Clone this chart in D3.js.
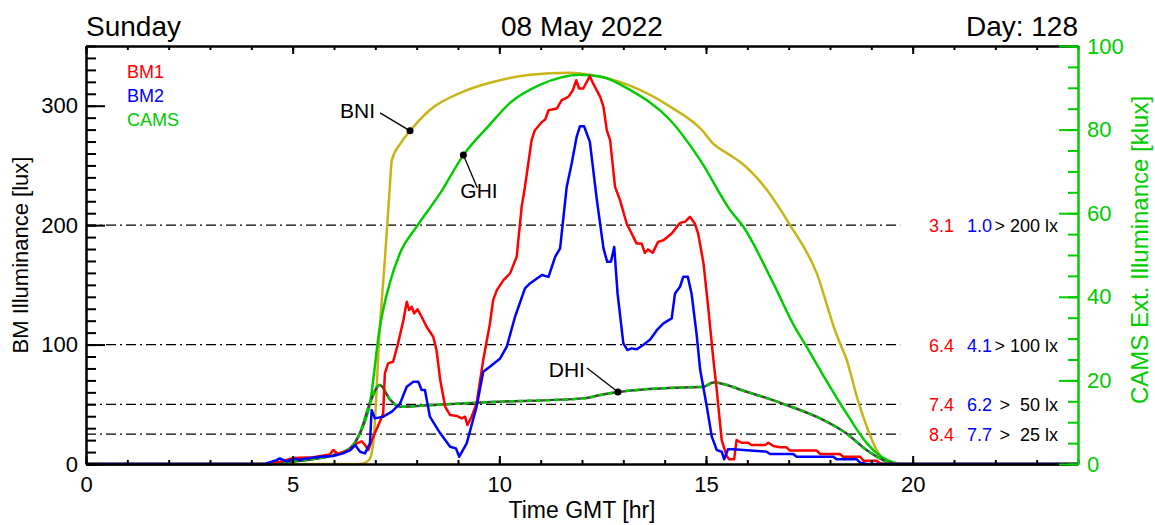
<!DOCTYPE html>
<html lang="en">

<head>
  <meta charset="UTF-8">
  <title>BM illuminance 08 May 2022</title>
  <script src="https://d3js.org/d3.v7.min.js"></script>
  <style type="text/css">
    body {
      margin: 0;
      background: #fff;
    }

    text {
      font-family: "Liberation Sans", Arial, Helvetica, sans-serif;
    }

    .stat {
      white-space: pre;
    }
  </style>
</head>

<body>
  <script type="text/javascript">
    // header texts
    var dayName = 'Sunday'
    var dateText = '08 May 2022'
    var dayText = 'Day: 128'

    // BM1 / BM2 illuminance [lux], pairs of [hour GMT, lux]
    var bm1 = [[0, 0], [4.4, 0], [4.69, 2], [5.02, 5], [5.5, 5.6], [5.9, 8], [5.98, 11.7], [6.1, 8.4], [6.39, 11.7],
      [6.55, 17.3], [6.67, 19], [6.75, 15.9], [6.83, 11.7], [6.95, 22.9], [7.11, 35.4], [7.19, 42.4], [7.23, 75.9],
      [7.31, 84.3], [7.43, 85.6], [7.55, 101], [7.68, 120.5], [7.76, 135.8], [7.82, 128.9], [7.88, 131.6], [7.94, 126.1],
      [8.02, 129.5], [8.12, 123.3], [8.24, 114.9], [8.4, 106.5], [8.48, 95.4], [8.57, 70.3], [8.69, 47.9], [8.81, 41],
      [8.97, 40.2], [9.09, 38.2], [9.17, 39.6], [9.23, 32.6], [9.33, 39.6], [9.45, 50.8], [9.61, 87], [9.77, 117],
      [9.85, 137.2], [9.94, 145.6], [10.1, 154], [10.26, 159.6], [10.42, 173.5], [10.54, 215.3], [10.62, 232],
      [10.78, 271.1], [10.86, 279.5], [11.03, 286.4], [11.11, 288.4], [11.19, 296.2], [11.39, 297.6], [11.51, 304.6],
      [11.67, 307.4], [11.78, 313], [11.86, 321.3], [11.93, 314.4], [12.03, 314.4], [12.19, 324.7], [12.27, 318.6],
      [12.44, 307.4], [12.52, 299], [12.6, 279.5], [12.68, 271.1], [12.8, 232], [12.92, 220.9], [13.08, 201.4],
      [13.32, 184.7], [13.44, 184.7], [13.52, 176.8], [13.6, 179.7], [13.71, 176.8], [13.84, 186], [13.97, 187.4],
      [14.17, 193], [14.37, 201.9], [14.49, 202.8], [14.61, 207], [14.73, 201.4], [14.81, 193], [14.94, 168],
      [15.06, 128.9], [15.18, 87], [15.26, 62], [15.3, 47.9], [15.38, 20], [15.5, 6.7], [15.56, 3.9], [15.68, 3.9],
      [15.74, 20], [15.86, 17.8], [16.02, 17.8], [16.1, 15.9], [16.43, 15.9], [16.51, 17.8], [16.63, 15.1], [16.79, 14],
      [16.95, 14], [17.03, 11.2], [17.68, 11.2], [17.76, 8.4], [18.24, 8.4], [18.32, 6.1], [18.73, 6.1], [18.81, 2.8],
      [19.13, 2.8], [19.21, 0.6], [19.3, 0], [24, 0]]

    var bm2 = [[0, 0], [4.33, 0], [4.61, 3.3], [4.69, 4.7], [4.86, 2], [5.02, 4.7], [5.18, 3.3], [5.34, 4.7], [5.66, 6.1],
      [5.98, 6.7], [6.22, 8.9], [6.39, 11.7], [6.51, 15.9], [6.63, 10.3], [6.75, 8.9], [6.87, 17.3], [6.91, 45.2],
      [6.99, 38.2], [7.19, 39.6], [7.4, 43.8], [7.6, 50.8], [7.76, 64.7], [7.92, 68.9], [8.04, 68.9], [8.12, 61.9],
      [8.2, 61.9], [8.32, 39.6], [8.57, 25.7], [8.81, 14.5], [8.95, 13.1], [9.03, 6.1], [9.21, 17.3], [9.45, 47.9],
      [9.61, 77.2], [9.77, 81.4], [10.02, 88.4], [10.18, 98.2], [10.38, 123.3], [10.62, 147], [10.74, 151.2],
      [11.03, 158.2], [11.19, 156.7], [11.35, 173.5], [11.47, 180.5], [11.63, 232], [11.75, 251.6], [11.87, 273.9],
      [11.95, 282.8], [12.05, 282.8], [12.19, 269.7], [12.36, 220.9], [12.52, 180.5], [12.61, 169.3], [12.7, 169.3],
      [12.78, 181.8], [12.86, 142.8], [13, 101], [13.1, 95.4], [13.2, 96.8], [13.32, 96], [13.48, 99.6], [13.65, 104.3],
      [13.81, 112], [13.97, 117.7], [14.17, 121.9], [14.25, 142.8], [14.37, 148.4], [14.45, 156.7], [14.56, 156.7],
      [14.65, 142.8], [14.77, 109.4], [14.86, 78.7], [15.02, 47.9], [15.14, 22.9], [15.26, 11.7], [15.38, 10.3],
      [15.44, 3.9], [15.53, 12.3], [15.66, 12.3], [16.47, 10.3], [16.55, 8.4], [17.11, 8.4], [17.19, 6.1], [18.08, 6.1],
      [18.16, 3.9], [18.65, 3.9], [18.73, 1.1], [18.9, 0], [24, 0]]

    // CAMS clear sky illuminance [klux]
    var bni = [[0, 0], [6.63, 0], [6.85, 1], [6.95, 5], [7.11, 32.8], [7.23, 48.8], [7.34, 64.8], [7.4, 72.7], [7.61, 76.7],
      [7.84, 79.7], [8.32, 84.7], [9.13, 89.1], [9.77, 91.2], [10.74, 93.1], [11.71, 93.6], [12.19, 93.1], [13.16, 90.5],
      [14.13, 85.5], [14.9, 79.9], [15.15, 76.9], [15.58, 73.9], [15.82, 72.3], [16.47, 65.6], [17.03, 57.2],
      [17.68, 45.6], [18.12, 32], [18.24, 28.9], [18.4, 25], [18.65, 16.1], [18.89, 8.9], [19.13, 3.3], [19.37, 0.2],
      [19.5, 0], [24, 0]]

    var ghi = [[0, 0], [4.4, 0], [5.0, 0.6], [5.5, 1.2], [5.9, 1.9], [6.39, 3.8], [6.63, 7.4], [6.87, 14.6], [7.11, 32.8],
      [7.35, 43.3], [7.6, 50.5], [8.0, 56.8], [8.57, 64.8], [9.13, 73.9], [9.77, 81.2], [10.26, 86.4], [10.98, 90.7],
      [11.5, 92.5], [11.95, 93.1], [12.44, 92.7], [13.16, 89.5], [14.13, 82.3], [14.86, 72.7], [15.58, 60.8],
      [15.9, 56.8], [16.63, 43.2], [17.19, 32], [17.36, 29.3], [17.76, 22.5], [18.4, 12.1], [18.89, 5], [19.37, 1],
      [19.61, 0.2], [19.7, 0], [24, 0]]

    var dhi = [[0, 0], [4.4, 0], [5.0, 0.6], [5.5, 1.2], [5.9, 1.9], [6.39, 3.8], [6.63, 7.4], [6.87, 14.6], [7.11, 18.9],
      [7.35, 15.5], [7.6, 13.7], [8.5, 14.2], [10.02, 14.9], [12.03, 15.7], [12.44, 16.5], [12.87, 17.2], [14.37, 18.3],
      [14.94, 18.5], [15.18, 19.5], [15.98, 17.3], [16.95, 14.1], [17.76, 10.9], [18.4, 7.3], [18.89, 3.3],
      [19.37, 0.6], [19.6, 0], [24, 0]]

    // thresholds [lux] and hours above them
    var levels = [200, 100, 50, 25]
    var levelText = ['> 200 lx', '> 100 lx', '>  50 lx', '>  25 lx']
    var bm1Hours = ['3.1', '6.4', '7.4', '8.4']
    var bm2Hours = ['1.0', '4.1', '6.2', '7.7']
    var levelEnd = 19.7

    // legend + curve labels
    var legendNames = ['BM1', 'BM2', 'CAMS']
    var curveNames = ['BNI', 'GHI', 'DHI']
    var curveMarkHour = [7.84, 9.13, 12.87]

    // tick values
    var xTicks = [0, 5, 10, 15, 20]
    var yTicks = [0, 100, 200, 300]
    var kTicks = [0, 20, 40, 60, 80, 100]

    //定义宽高
    var w = 1155
    var h = 525
    var margin = { top: 46, right: 77, bottom: 61, left: 86 }
    var pw = w - margin.left - margin.right
    var ph = h - margin.top - margin.bottom

    var red = '#ff0000'
    var blue = '#0000ff'
    var green = '#00cc00'
    var olive = '#c8b418'

    var xScale = d3.scaleLinear().domain([0, 24]).range([0, pw])
    var yScale = d3.scaleLinear().domain([0, 350]).range([ph, 0])
    var kScale = d3.scaleLinear().domain([0, 100]).range([ph, 0])

    var svg = d3.select('body').append('svg').attr('width', w).attr('height', h)
    var g = svg.append('g').attr('transform', 'translate(' + margin.left + ',' + margin.top + ')')

    // header
    svg.append('text').attr('x', margin.left).attr('y', 36).attr('font-size', 28).text(dayName)
    svg.append('text').attr('x', margin.left + pw / 2).attr('y', 36).attr('font-size', 28)
      .attr('text-anchor', 'middle').text(dateText)
    svg.append('text').attr('x', margin.left + pw).attr('y', 36).attr('font-size', 28)
      .attr('text-anchor', 'end').text(dayText)

    // reference lines
    g.selectAll('.level').data(levels).enter().append('line')
      .attr('x1', 0).attr('x2', xScale(levelEnd))
      .attr('y1', function (d) { return yScale(d) }).attr('y2', function (d) { return yScale(d) })
      .attr('stroke', '#000').attr('stroke-width', 1.2).attr('stroke-dasharray', '10,4,2,4')

    // stats to the right of the lines
    g.selectAll('.s1').data(bm1Hours).enter().append('text')
      .attr('x', pw - 149).attr('y', function (d, i) { return yScale(levels[i]) + 7 })
      .attr('font-size', 18).attr('fill', red).text(function (d) { return d })
    g.selectAll('.s2').data(bm2Hours).enter().append('text')
      .attr('x', pw - 111).attr('y', function (d, i) { return yScale(levels[i]) + 7 })
      .attr('font-size', 18).attr('fill', blue).text(function (d) { return d })
    g.selectAll('.s3').data(levelText).enter().append('text').attr('class', 'stat')
      .attr('x', pw - 20).attr('y', function (d, i) { return yScale(levels[i]) + 7 })
      .attr('font-size', 18).attr('text-anchor', 'end').text(function (d) { return d })

    // curves
    var luxLine = d3.line().x(function (d) { return xScale(d[0]) }).y(function (d) { return yScale(d[1]) })
    var kSmooth = d3.line().curve(d3.curveMonotoneX)
      .x(function (d) { return xScale(d[0]) }).y(function (d) { return kScale(d[1]) })

    g.append('path').datum(bni).attr('d', kSmooth).attr('fill', 'none').attr('stroke', olive).attr('stroke-width', 2.5)
    g.append('path').datum(ghi).attr('d', kSmooth).attr('fill', 'none').attr('stroke', green).attr('stroke-width', 2.5)
    g.append('path').datum(dhi).attr('d', kSmooth).attr('fill', 'none').attr('stroke', '#444').attr('stroke-width', 2.5)
    g.append('path').datum(dhi).attr('d', kSmooth).attr('fill', 'none').attr('stroke', green).attr('stroke-width', 2.5)
      .attr('stroke-dasharray', '5,4')
    g.append('path').datum(bm1).attr('d', luxLine).attr('fill', 'none').attr('stroke', red).attr('stroke-width', 2.5)
      .attr('stroke-linejoin', 'round')
    g.append('path').datum(bm2).attr('d', luxLine).attr('fill', 'none').attr('stroke', blue).attr('stroke-width', 2.5)
      .attr('stroke-linejoin', 'round')

    // curve labels with dot + leader
    function valueAt(series, t) {
      var i = d3.bisector(function (d) { return d[0] }).left(series, t)
      if (i <= 0) return series[0][1]
      var a = series[i - 1], b = series[i]
      return a[1] + (b[1] - a[1]) * (t - a[0]) / (b[0] - a[0])
    }
    var curveSeries = [bni, ghi, dhi]
    // pixel offsets of leader end / label from the dot
    var leadOff = [[-30, -18], [14, 33], [-31, -24]]
    var labelOff = [[-35, -13], [-3, 43], [-33, -15]]
    var labelAnchor = ['end', 'start', 'end']
    curveNames.forEach(function (name, i) {
      var t = curveMarkHour[i]
      var px = xScale(t), py = kScale(valueAt(curveSeries[i], t))
      g.append('line').attr('x1', px).attr('y1', py)
        .attr('x2', px + leadOff[i][0]).attr('y2', py + leadOff[i][1])
        .attr('stroke', '#000').attr('stroke-width', 1.3)
      g.append('circle').attr('cx', px).attr('cy', py).attr('r', 3.5).attr('fill', '#000')
      g.append('text').attr('x', px + labelOff[i][0]).attr('y', py + labelOff[i][1])
        .attr('font-size', 21).attr('text-anchor', labelAnchor[i]).text(name)
    })

    // legend
    var legendColors = [red, blue, green]
    g.selectAll('.legend').data(legendNames).enter().append('text')
      .attr('x', 41).attr('y', function (d, i) { return 32 + i * 24 })
      .attr('font-size', 18).attr('fill', function (d, i) { return legendColors[i] })
      .text(function (d) { return d })

    // axes
    function styleAxis(sel, color) {
      sel.attr('color', color)
      sel.selectAll('line').attr('stroke-width', 2)
      sel.selectAll('path').attr('stroke-width', 2)
      sel.selectAll('text').attr('font-size', 22).attr('font-family', '"Liberation Sans", Arial, sans-serif')
    }

    var minorX = d3.range(0, 25, 1)
    var minorY = d3.range(0, 351, 10)
    var minorK = d3.range(0, 101, 5)

    g.append('g').attr('transform', 'translate(0,' + ph + ')')
      .call(d3.axisBottom(xScale).tickValues(minorX).tickSize(-4).tickSizeOuter(0).tickFormat(''))
      .call(styleAxis, '#000')
    g.append('g').attr('transform', 'translate(0,' + ph + ')')
      .call(d3.axisBottom(xScale).tickValues(xTicks).tickSize(-8).tickSizeOuter(0).tickPadding(12).tickFormat(d3.format('d')))
      .call(styleAxis, '#000')
    g.append('g')
      .call(d3.axisTop(xScale).tickValues(minorX).tickSize(-4).tickSizeOuter(0).tickFormat(''))
      .call(styleAxis, '#000')
    g.append('g')
      .call(d3.axisTop(xScale).tickValues(xTicks).tickSize(-8).tickSizeOuter(0).tickFormat(''))
      .call(styleAxis, '#000')

    g.append('g')
      .call(d3.axisLeft(yScale).tickValues(minorY).tickSize(-10).tickSizeOuter(0).tickFormat(''))
      .call(styleAxis, '#000')
    g.append('g')
      .call(d3.axisLeft(yScale).tickValues(yTicks).tickSize(-19).tickSizeOuter(0).tickPadding(8).tickFormat(d3.format('d')))
      .call(styleAxis, '#000')

    g.append('g').attr('transform', 'translate(' + pw + ',0)')
      .call(d3.axisRight(kScale).tickValues(minorK).tickSize(-10).tickSizeOuter(0).tickFormat(''))
      .call(styleAxis, green)
    g.append('g').attr('transform', 'translate(' + pw + ',0)')
      .call(d3.axisRight(kScale).tickValues(kTicks).tickSize(-19).tickSizeOuter(0).tickPadding(9).tickFormat(d3.format('d')))
      .call(styleAxis, green)

    // axis titles
    svg.append('text').attr('x', margin.left + pw / 2).attr('y', 518).attr('font-size', 23)
      .attr('text-anchor', 'middle').text('Time GMT [hr]')
    svg.append('text').attr('transform', 'translate(28,' + (margin.top + ph / 2) + ') rotate(-90)')
      .attr('font-size', 22).attr('text-anchor', 'middle').text('BM Illuminance [lux]')
    svg.append('text').attr('transform', 'translate(1148,250) rotate(-90)')
      .attr('font-size', 24).attr('text-anchor', 'middle').attr('fill', green).text('CAMS Ext. Illuminance [klux]')
  </script>
</body>

</html>
